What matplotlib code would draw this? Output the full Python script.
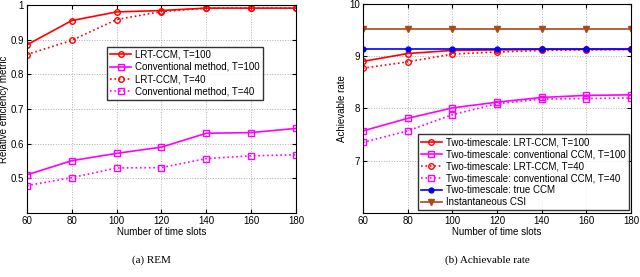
import matplotlib
matplotlib.use("Agg")
import matplotlib.pyplot as plt

plt.rcParams['font.family'] = ['Liberation Sans', 'DejaVu Sans']

# data
slots = [60, 80, 100, 120, 140, 160, 180]

rem_lrt_100 = [0.885, 0.955, 0.980, 0.984, 0.991, 0.991, 0.991]
rem_conv_100 = [0.510, 0.551, 0.572, 0.590, 0.630, 0.632, 0.644]
rem_lrt_40 = [0.857, 0.898, 0.958, 0.981, 0.991, 0.991, 0.991]
rem_conv_40 = [0.479, 0.502, 0.530, 0.531, 0.557, 0.565, 0.568]

rate_lrt_100 = [8.90, 9.05, 9.11, 9.12, 9.13, 9.13, 9.13]
rate_conv_100 = [7.57, 7.81, 8.01, 8.12, 8.21, 8.25, 8.26]
rate_lrt_40 = [8.77, 8.89, 9.04, 9.08, 9.11, 9.12, 9.13]
rate_conv_40 = [7.35, 7.57, 7.88, 8.09, 8.18, 8.19, 8.20]
rate_true_ccm = [9.13] * 7
rate_inst_csi = [9.51] * 7

red = '#ff0000'
mag = '#ff00ff'
blue = '#0000ff'
brown = '#a8481c'

fig = plt.figure(figsize=(6.4, 2.77), dpi=100)
ax1 = fig.add_axes([0.042, 0.231, 0.4205, 0.751])
ax2 = fig.add_axes([0.567, 0.231, 0.419, 0.755])

fs = 7
ms = 4

# (a) REM
ax1.plot(slots, rem_lrt_100, '-o', color=red, mfc='none', ms=ms, lw=1.2, label='LRT-CCM, T=100')
ax1.plot(slots, rem_conv_100, '-s', color=mag, mfc='none', ms=ms, lw=1.2, label='Conventional method, T=100')
ax1.plot(slots, rem_lrt_40, ':o', color=red, mfc='none', ms=ms, lw=1.2, label='LRT-CCM, T=40')
ax1.plot(slots, rem_conv_40, ':s', color=mag, mfc='none', ms=ms, lw=1.2, label='Conventional method, T=40')
ax1.set_xlim(60, 180)
ax1.set_ylim(0.4, 1.0)
ax1.set_xticks(slots)
ax1.set_yticks([0.5, 0.6, 0.7, 0.8, 0.9, 1.0])
ax1.set_yticklabels(['0.5', '0.6', '0.7', '0.8', '0.9', '1'])
ax1.set_xlabel('Number of time slots', fontsize=fs, labelpad=1)
ax1.set_ylabel('Relative efficiency metric', fontsize=fs, labelpad=1)
ax1.legend(loc='upper left', bbox_to_anchor=(0.298, 0.80), fontsize=fs, frameon=True,
           fancybox=False, edgecolor='black', handlelength=2.2, borderpad=0.3,
           labelspacing=0.25, handletextpad=0.4, borderaxespad=0)

# (b) Achievable rate
ax2.plot(slots, rate_lrt_100, '-o', color=red, mfc='none', ms=ms, lw=1.2, label='Two-timescale: LRT-CCM, T=100')
ax2.plot(slots, rate_conv_100, '-s', color=mag, mfc='none', ms=ms, lw=1.2, label='Two-timescale: conventional CCM, T=100')
ax2.plot(slots, rate_lrt_40, ':o', color=red, mfc='none', ms=ms, lw=1.2, label='Two-timescale: LRT-CCM, T=40')
ax2.plot(slots, rate_conv_40, ':s', color=mag, mfc='none', ms=ms, lw=1.2, label='Two-timescale: conventional CCM, T=40')
ax2.plot(slots, rate_true_ccm, '-o', color=blue, ms=3.5, lw=1.2, label='Two-timescale: true CCM')
ax2.plot(slots, rate_inst_csi, '-v', color=brown, ms=ms, lw=1.2, label='Instantaneous CSI')
ax2.set_xlim(60, 180)
ax2.set_ylim(6, 10)
ax2.set_xticks(slots)
ax2.set_yticks([7, 8, 9, 10])
ax2.set_xlabel('Number of time slots', fontsize=fs, labelpad=1)
ax2.set_ylabel('Achievable rate', fontsize=fs, labelpad=2)
ax2.legend(loc='lower left', bbox_to_anchor=(0.205, 0.015), fontsize=fs, frameon=True,
           fancybox=False, edgecolor='black', handlelength=2.2, borderpad=0.3,
           labelspacing=0.2, handletextpad=0.4, borderaxespad=0)

for ax in (ax1, ax2):
    ax.grid(True, linestyle=':', color='#b0b0b0', lw=0.7)
    ax.tick_params(labelsize=fs, direction='in', length=3, pad=2, top=True, right=True)
    for s in ax.spines.values():
        s.set_linewidth(0.8)

fig.text(0.236, 0.061, '(a) REM', ha='center', va='center', fontsize=8, family='Liberation Serif')
fig.text(0.761, 0.061, '(b) Achievable rate', ha='center', va='center', fontsize=8, family='Liberation Serif')

fig.savefig('out.png', dpi=100)
